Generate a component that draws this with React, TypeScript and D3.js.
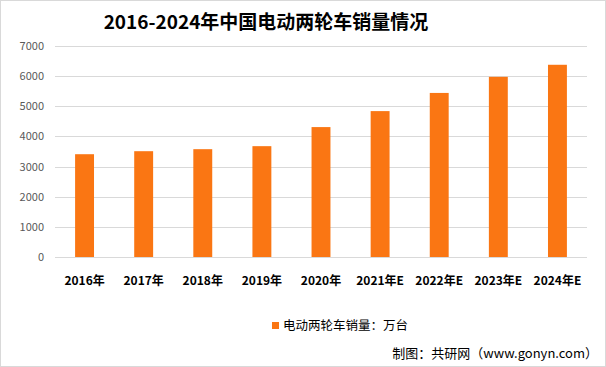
import React, { useRef, useEffect } from 'react';
import * as d3 from 'd3';

const years = ['2016年', '2017年', '2018年', '2019年', '2020年', '2021年E', '2022年E', '2023年E', '2024年E'];
const sales = [3410, 3510, 3577, 3677, 4310, 4840, 5443, 5977, 6377];
const yTicks = [0, 1000, 2000, 3000, 4000, 5000, 6000, 7000];

const W = 606;
const H = 367;
const FONT = '"Microsoft YaHei", "Noto Sans CJK SC", sans-serif';

const App: React.FC = () => {
  const svgRef = useRef<SVGSVGElement>(null);

  useEffect(() => {
    if (!svgRef.current) return;
    const svg = d3.select(svgRef.current);
    svg.selectAll('*').remove();

    const margin = { top: 46, right: 19, bottom: 110, left: 55 };
    const innerW = W - margin.left - margin.right;
    const innerH = H - margin.top - margin.bottom;

    // frame
    svg.append('rect')
      .attr('x', 0.5).attr('y', 0.5)
      .attr('width', W - 1).attr('height', H - 1)
      .attr('fill', '#fff')
      .attr('stroke', '#d9d9d9');

    svg.append('text')
      .attr('x', 266).attr('y', 29)
      .attr('text-anchor', 'middle')
      .style('font-family', FONT)
      .style('font-size', '19px')
      .style('font-weight', 'bold')
      .attr('fill', '#000')
      .text('2016-2024年中国电动两轮车销量情况');

    const g = svg.append('g').attr('transform', `translate(${margin.left},${margin.top})`);

    const x = d3.scaleBand().domain(years).range([0, innerW]).paddingInner(0.68).paddingOuter(0.34);
    const y = d3.scaleLinear().domain([0, 7000]).range([innerH, 0]);

    // grid
    g.selectAll('.grid')
      .data(yTicks)
      .enter()
      .append('line')
      .attr('x1', 0).attr('x2', innerW)
      .attr('y1', d => Math.round(y(d)) + 0.5)
      .attr('y2', d => Math.round(y(d)) + 0.5)
      .attr('stroke', '#d9d9d9')
      .attr('stroke-width', 1);

    // y labels
    g.selectAll('.ylab')
      .data(yTicks)
      .enter()
      .append('text')
      .attr('x', -11)
      .attr('y', d => y(d) + 4)
      .attr('text-anchor', 'end')
      .style('font-family', FONT)
      .style('font-size', '11px')
      .attr('fill', '#595959')
      .text(d => String(d));

    // bars
    g.selectAll('.bar')
      .data(sales)
      .enter()
      .append('rect')
      .attr('x', (d, i) => x(years[i])!)
      .attr('width', x.bandwidth())
      .attr('y', d => y(d))
      .attr('height', d => innerH - y(d))
      .attr('fill', '#fa7613');

    // x labels
    g.selectAll('.xlab')
      .data(years)
      .enter()
      .append('text')
      .attr('x', d => x(d)! + x.bandwidth() / 2)
      .attr('y', innerH + 28)
      .attr('text-anchor', 'middle')
      .style('font-family', FONT)
      .style('font-size', '12px')
      .style('font-weight', 'bold')
      .attr('fill', '#000')
      .text(d => d);

    // legend
    svg.append('rect')
      .attr('x', 272).attr('y', 322)
      .attr('width', 7).attr('height', 7)
      .attr('fill', '#fa7613');
    svg.append('text')
      .attr('x', 283).attr('y', 330)
      .style('font-family', FONT)
      .style('font-size', '12.5px')
      .attr('fill', '#000')
      .text('电动两轮车销量：万台');

    // source
    svg.append('text')
      .attr('x', 598).attr('y', 358)
      .attr('text-anchor', 'end')
      .style('font-family', FONT)
      .style('font-size', '13px')
      .attr('fill', '#000')
      .text('制图：共研网（www.gonyn.com）');
  }, []);

  return (
    <svg
      ref={svgRef}
      width={W}
      height={H}
      style={{ position: 'absolute', left: 0, top: 0, display: 'block' }}
    />
  );
};

export default App;
